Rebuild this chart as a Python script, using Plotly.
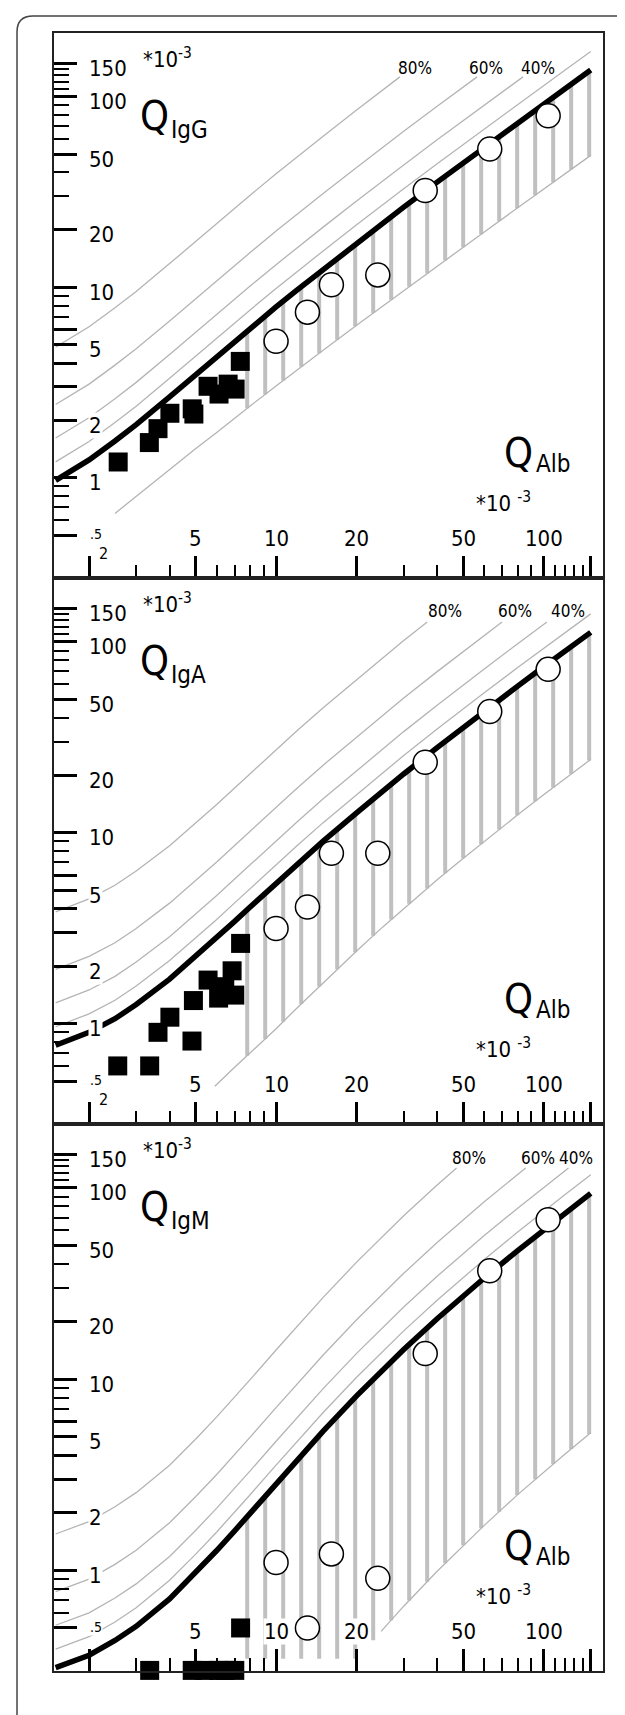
import numpy as np
import plotly.graph_objects as go

W, H = 625, 1715

# ---------------- data (all Q values in units of 10^-3) ----------------
# Reiber upper limit (Q_lim) curves, read at these Q_Alb values
QALB_GRID = [1.5, 2, 2.5, 3, 4, 5, 6, 7, 8, 10, 12, 15, 20, 25, 30, 40, 50, 60, 80, 100, 120, 150]
QLIM_IGG = [0.97, 1.24, 1.56, 1.90, 2.66, 3.48, 4.33, 5.20, 6.08, 7.88, 9.69, 12.4, 17.0, 21.7, 26.3, 35.6, 44.9, 54.1, 72.7, 91.3, 110, 138]
QLIM_IGA = [0.77, 0.90, 1.06, 1.26, 1.71, 2.24, 2.81, 3.43, 4.08, 5.44, 6.85, 9.03, 12.7, 16.5, 20.3, 27.9, 35.6, 43.2, 58.6, 74.0, 89.4, 112]
QLIM_IGM = [0.31, 0.36, 0.43, 0.51, 0.71, 0.97, 1.27, 1.61, 1.99, 2.84, 3.79, 5.35, 8.18, 11.2, 14.3, 20.7, 27.2, 33.8, 47.0, 60.3, 73.6, 93.7]

# lower limit (Q_low) curves
QALB_LOW_IGG = [2.5, 3, 4, 5, 6, 7, 8, 10, 12, 15, 20, 25, 30, 40, 50, 60, 80, 100, 120, 150]
QLOW_IGG = [0.65, 0.80, 1.10, 1.42, 1.73, 2.06, 2.38, 3.03, 3.69, 4.67, 6.32, 7.96, 9.61, 12.9, 16.2, 19.5, 26.1, 32.7, 39.3, 49.2]
QALB_LOW_IGA = [5.9, 6, 7, 8, 10, 12, 15, 20, 25, 30, 40, 50, 60, 80, 100, 120, 150]
QLOW_IGA = [0.47, 0.48, 0.59, 0.70, 0.94, 1.21, 1.64, 2.40, 3.20, 4.01, 5.66, 7.33, 9.00, 12.4, 15.8, 19.2, 24.2]
QALB_LOW_IGM = [20, 22, 24.7, 30, 40, 50, 60, 80, 100, 120, 150]
QLOW_IGM = [0.34, 0.40, 0.48, 0.65, 0.99, 1.35, 1.72, 2.49, 3.27, 4.05, 5.24]
LOW_LINE_START = [2.5, 5.9, 24.7]

# intrathecal fraction lines (Q = Q_lim / (1 - IF))
IF_LEVELS = [0.8, 0.6, 0.4, 0.2]
IF_LABELS = ["80%", "60%", "40%"]
IF_CLIP = [127, 127, 127, None]

# patients: open circles
CIRCLE_QALB = [10.0, 13.1, 16.1, 24.0, 36.1, 62.9, 104]
CIRCLE_IGG = [5.2, 7.4, 10.3, 11.6, 32.2, 53.1, 79.3]
CIRCLE_IGA = [3.15, 4.08, 7.8, 7.8, 23.4, 43.1, 71.7]
CIRCLE_IGM = [1.10, 0.50, 1.22, 0.91, 13.6, 36.9, 68.2]

# patients: filled squares
SQ_QALB_IGG = [2.57, 3.36, 3.62, 4.01, 4.86, 4.93, 5.57, 6.12, 6.62, 7.03, 7.35]
SQ_IGG = [1.21, 1.53, 1.81, 2.18, 2.30, 2.16, 3.02, 2.75, 3.10, 2.92, 4.08]
SQ_QALB_IGA = [2.56, 3.37, 3.62, 4.01, 4.85, 4.91, 5.57, 6.10, 6.43, 6.85, 7.01, 7.37]
SQ_IGA = [0.60, 0.60, 0.90, 1.08, 0.81, 1.32, 1.69, 1.36, 1.56, 1.89, 1.41, 2.63]
SQ_QALB_IGM = [3.37, 4.86, 5.41, 6.10, 6.43, 7.01, 7.37]
SQ_IGM = [0.30, 0.30, 0.30, 0.30, 0.30, 0.30, 0.50]

PANEL_NAMES = ["IgG", "IgA", "IgM"]

X_MAJOR = [2, 5, 10, 20, 50, 100, 150]
X_MINOR = [3, 4, 6, 7, 8, 9, 30, 40, 60, 70, 80, 90, 110, 120, 130, 140]
X_LABELS = [(5, "5"), (10, "10"), (20, "20"), (50, "50"), (100, "100")]
Y_MAJOR = [150, 100, 50, 20, 10, 6, 5, 4, 3, 2, 1, 0.5]
Y_MINOR = [140, 130, 120, 110, 90, 80, 70, 60, 40, 30, 9, 8, 7, 0.9, 0.8, 0.7, 0.6]
Y_LABELS = [(150, "150"), (100, "100"), (50, "50"), (20, "20"), (10, "10"), (5, "5"), (2, "2"), (1, "1")]

# ---------------- layout geometry (pixels) ----------------
PLOT_L, PLOT_R = 46, 595
PANEL_TB = [(25, 570), (570, 1116), (1116, 1663)]
IF_LABEL_POS = [[(407, 60), (478, 60), (530, 60)],
                [(437, 603), (507, 603), (560, 603)],
                [(461, 1150), (530, 1150), (568, 1150)]]
XR = [0.170, 2.222]
YR = [-0.526, 2.334]
FONT = "DejaVu Sans Condensed, DejaVu Sans, sans-serif"
GREY = "#b4b4b4"
HATCH = "#c0c0c0"


def px(x):
    return x / W


def py(y):
    return 1 - y / H


def interp_log(xq, xs, ys):
    return 10 ** np.interp(np.log10(xq), np.log10(xs), np.log10(ys))


def clipped(xs, ys, clip):
    if clip is None:
        return list(xs), list(ys)
    lx, ly = np.log10(xs), np.log10(ys)
    ox, oy = [], []
    for i in range(len(xs)):
        if ys[i] <= clip:
            ox.append(xs[i]); oy.append(ys[i])
        else:
            if i > 0:
                t = (np.log10(clip) - ly[i - 1]) / (ly[i] - ly[i - 1])
                ox.append(10 ** (lx[i - 1] + t * (lx[i] - lx[i - 1]))); oy.append(clip)
            break
    return ox, oy


fig = go.Figure()
annotations = []

qlims = [QLIM_IGG, QLIM_IGA, QLIM_IGM]
lows = [(QALB_LOW_IGG, QLOW_IGG), (QALB_LOW_IGA, QLOW_IGA), (QALB_LOW_IGM, QLOW_IGM)]
circles = [CIRCLE_IGG, CIRCLE_IGA, CIRCLE_IGM]
squares = [(SQ_QALB_IGG, SQ_IGG), (SQ_QALB_IGA, SQ_IGA), (SQ_QALB_IGM, SQ_IGM)]

hatch_x = np.geomspace(7.8, 148, 20)
floor_q = 0.345

for p in range(3):
    xa = "x" if p == 0 else f"x{p+1}"
    ya = "y" if p == 0 else f"y{p+1}"
    qlim = np.array(qlims[p])
    lx, lq = lows[p]

    # hatching between lower and upper limit
    hx, hy = [], []
    for h in hatch_x:
        top = interp_log(h, QALB_GRID, qlim)
        if h >= lx[0]:
            bot = max(interp_log(h, lx, lq), floor_q)
        else:
            bot = floor_q
        hx += [h, h, None]
        hy += [bot, top, None]
    fig.add_trace(go.Scatter(x=hx, y=hy, mode="lines", xaxis=xa, yaxis=ya,
                             line=dict(color=HATCH, width=4), hoverinfo="skip"))

    # intrathecal fraction lines
    for f, clip in zip(IF_LEVELS, IF_CLIP):
        cx, cy = clipped(QALB_GRID, qlim / (1 - f), clip)
        fig.add_trace(go.Scatter(x=cx, y=cy, mode="lines", xaxis=xa, yaxis=ya,
                                 line=dict(color=GREY, width=1.3), hoverinfo="skip"))

    # lower limit line
    sx = [a for a in lx if a >= LOW_LINE_START[p]]
    sy = [b for a, b in zip(lx, lq) if a >= LOW_LINE_START[p]]
    fig.add_trace(go.Scatter(x=sx, y=sy, mode="lines", xaxis=xa, yaxis=ya,
                             line=dict(color=GREY, width=1.3), hoverinfo="skip"))

    # upper limit (thick)
    fig.add_trace(go.Scatter(x=QALB_GRID, y=qlim, mode="lines", xaxis=xa, yaxis=ya,
                             line=dict(color="black", width=5.5), hoverinfo="skip"))

    # squares
    fig.add_trace(go.Scatter(x=squares[p][0], y=squares[p][1], mode="markers", xaxis=xa, yaxis=ya,
                             cliponaxis=False,
                             marker=dict(symbol="square", size=19, color="black",
                                         line=dict(width=0))))
    # circles
    fig.add_trace(go.Scatter(x=CIRCLE_QALB, y=circles[p], mode="markers", xaxis=xa, yaxis=ya,
                             cliponaxis=False,
                             marker=dict(symbol="circle", size=24, color="white",
                                         line=dict(color="black", width=1.5))))

    top, bot = PANEL_TB[p]
    dom = [py(bot), py(top)]
    axcommon = dict(type="log", showline=True, linecolor="#222", linewidth=1.5, mirror=True,
                    showgrid=False, zeroline=False, showticklabels=False,
                    ticks="inside", tickcolor="black", tickwidth=3)
    fig.update_layout(**{
        ("xaxis" if p == 0 else f"xaxis{p+1}"): dict(
            axcommon, range=XR, domain=[px(PLOT_L), px(PLOT_R)], anchor=ya,
            tickmode="array", tickvals=X_MAJOR, ticklen=22,
            minor=dict(tickmode="array", tickvals=X_MINOR, ticks="inside", ticklen=13,
                       tickwidth=1.5, tickcolor="black", showgrid=False)),
        ("yaxis" if p == 0 else f"yaxis{p+1}"): dict(
            axcommon, range=YR, domain=dom, anchor=xa,
            tickmode="array", tickvals=Y_MAJOR, ticklen=23,
            minor=dict(tickmode="array", tickvals=Y_MINOR, ticks="inside", ticklen=15,
                       tickwidth=1.5, tickcolor="black", showgrid=False)),
    })

    # y tick labels
    for v, t in Y_LABELS:
        annotations.append(dict(text=t, xref="paper", x=px(80), xanchor="left",
                                yref=ya, y=np.log10(v), yanchor="middle", yshift=-5,
                                showarrow=False, bgcolor="white", borderpad=0,
                                font=dict(family=FONT, size=22, color="black")))
    annotations.append(dict(text=".5", xref="paper", x=px(81), xanchor="left",
                            yref=ya, y=np.log10(0.5), yanchor="middle", yshift=1,
                            showarrow=False, bgcolor="white", borderpad=0,
                            font=dict(family=FONT, size=14, color="black")))
    # x tick labels
    for v, t in X_LABELS:
        annotations.append(dict(text=t, xref=xa, x=np.log10(v), xanchor="center",
                                yref=ya + " domain", y=0, yanchor="middle", yshift=40,
                                showarrow=False, bgcolor="white", borderpad=0,
                                font=dict(family=FONT, size=22, color="black")))
    if p < 2:
        annotations.append(dict(text="2", xref="paper", x=px(96), xanchor="center",
                                yref="paper", y=py(bot - 25), yanchor="middle",
                                showarrow=False,
                                font=dict(family=FONT, size=16, color="black")))

    # axis titles
    annotations += [
        dict(text="Q", xref="paper", x=px(130), xanchor="left", yref="paper", y=py(top + 83),
             yanchor="middle", showarrow=False, font=dict(family=FONT, size=41, color="black")),
        dict(text=PANEL_NAMES[p], xref="paper", x=px(161), xanchor="left", yref="paper",
             y=py(top + 97), yanchor="middle", showarrow=False,
             font=dict(family=FONT, size=24, color="black")),
        dict(text="*10<sup>-3</sup>", xref="paper", x=px(133), xanchor="left", yref="paper",
             y=py(top + 25), yanchor="middle", showarrow=False,
             font=dict(family=FONT, size=22, color="black")),
        dict(text="Q", xref="paper", x=px(494), xanchor="left", yref="paper", y=py(bot - 125),
             yanchor="middle", showarrow=False, font=dict(family=FONT, size=41, color="black")),
        dict(text="Alb", xref="paper", x=px(526), xanchor="left", yref="paper",
             y=py(bot - 114), yanchor="middle", showarrow=False,
             font=dict(family=FONT, size=24, color="black")),
        dict(text="*10 <sup>-3</sup>", xref="paper", x=px(466), xanchor="left", yref="paper",
             y=py(bot - 76), yanchor="middle", showarrow=False,
             font=dict(family=FONT, size=22, color="black")),
    ]
    for (lxp, lyp), lab in zip(IF_LABEL_POS[p], IF_LABELS):
        annotations.append(dict(text=lab, xref="paper", x=px(lxp), xanchor="center",
                                yref="paper", y=py(lyp), yanchor="middle", showarrow=False,
                                font=dict(family=FONT, size=17, color="black")))

# outer rounded frame (only top-left corner visible)
frame = (f"M {px(9)},{py(1715)} L {px(9)},{py(24)} "
         f"Q {px(9)},{py(8)} {px(25)},{py(8)} L {px(625)},{py(8)}")

fig.update_layout(
    width=W, height=H, margin=dict(l=0, r=0, t=0, b=0),
    paper_bgcolor="white", plot_bgcolor="white", showlegend=False,
    annotations=annotations,
    shapes=[dict(type="path", xref="paper", yref="paper", path=frame,
                 line=dict(color="#444", width=1.5))],
)

fig.write_html("out.html")
